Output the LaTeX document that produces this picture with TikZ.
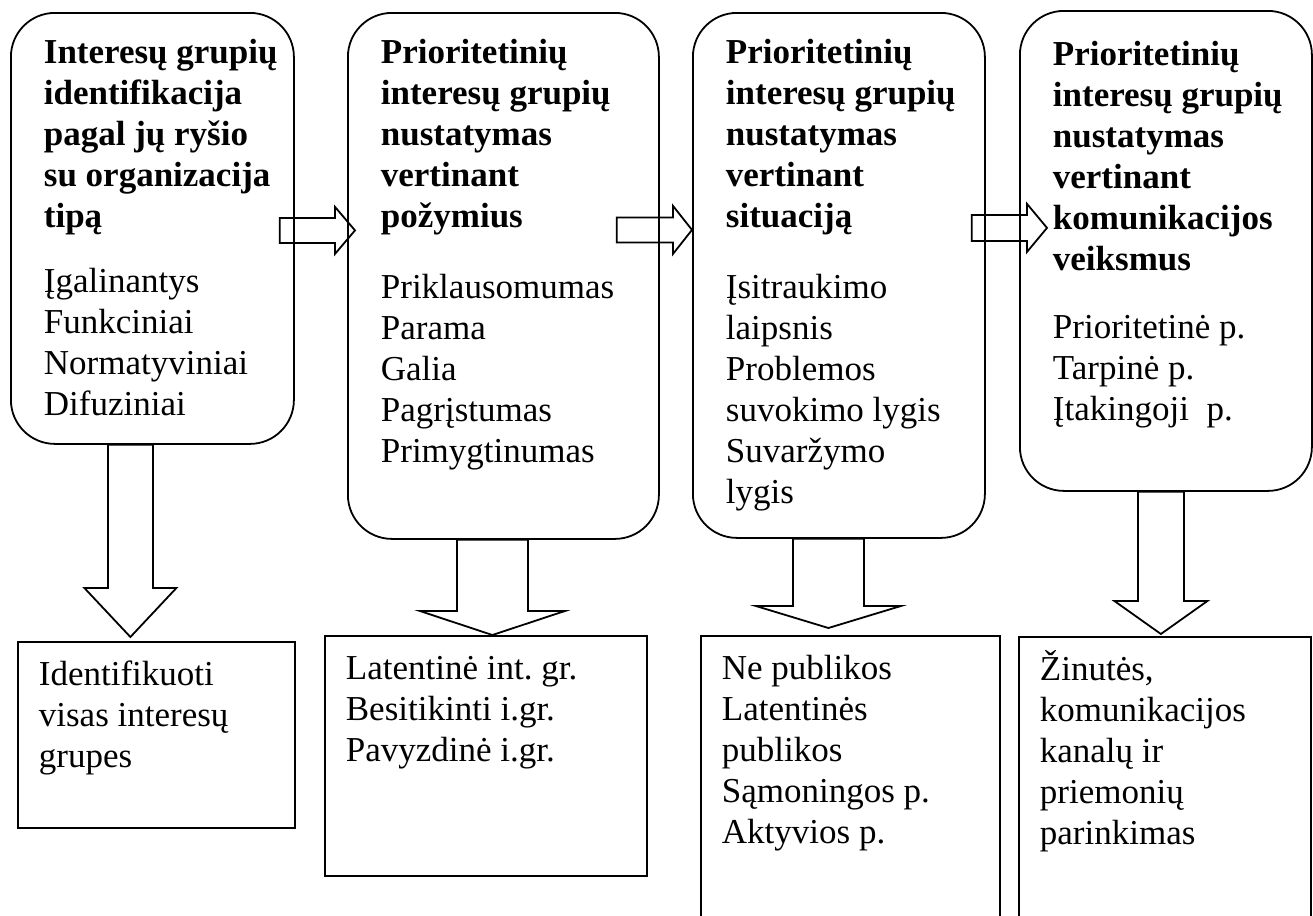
\documentclass[tikz,border=0pt]{standalone}
\usepackage{fontspec}
\setmainfont{Liberation Serif}
\usetikzlibrary{calc}

\newcommand\stagefont{\fontsize{17.5}{20.5}\selectfont\hyphenpenalty=10000\exhyphenpenalty=10000}

% block arrows: start, tip, half shaft, half head, head length
\newcommand\rightblock[5]{%
  \draw[blockarrow] ($(#1)+(0,-#3)$) -- ($(#2)+(-#5,-#3)$) -- ($(#2)+(-#5,-#4)$)
    -- (#2) -- ($(#2)+(-#5,#4)$) -- ($(#2)+(-#5,#3)$) -- ($(#1)+(0,#3)$) -- cycle;}
\newcommand\downblock[5]{%
  \draw[blockarrow] ($(#1)+(-#3,0)$) -- ($(#2)+(-#3,-#5)$) -- ($(#2)+(-#4,-#5)$)
    -- (#2) -- ($(#2)+(#4,-#5)$) -- ($(#2)+(#3,-#5)$) -- ($(#1)+(#3,0)$) -- cycle;}

\tikzset{
  stage/.style={draw, line width=0.9pt, rounded corners=22pt, anchor=north west,
    align=flush left, inner xsep=16.5pt, inner ysep=0pt, text height=25.5pt, font=\stagefont},
  result/.style={draw, line width=0.9pt, anchor=north west,
    align=flush left, inner xsep=10.5pt, inner ysep=0pt, text height=22pt, font=\stagefont},
  blockarrow/.style={draw, line width=0.9pt, line join=miter},
}

\begin{document}
\begin{tikzpicture}[x=0.5pt,y=-0.5pt]
  \useasboundingbox (0,0) rectangle (1313,916);

  % stages
  \node[stage, text width=108.5pt, text depth=190pt] (s1) at (10,12)
    {\textbf{\mbox{Interesų grupių}\\identifikacija\\\mbox{pagal jų ryšio}\\\mbox{su organizacija}\\tipą}\\[12pt]
     Įgalinantys\\Funkciniai\\Normatyviniai\\Difuziniai};
  \node[stage, text width=122.5pt, text depth=237.5pt] (s2) at (347,12)
    {\textbf{Prioritetinių\\\mbox{interesų grupių}\\nustatymas\\vertinant\\požymius}\\[15pt]
     Priklausomumas\\Parama\\Galia\\Pagrįstumas\\Primygtinumas};
  \node[stage, text width=113pt, text depth=237pt] (s3) at (692,12)
    {\textbf{Prioritetinių\\\mbox{interesų grupių}\\nustatymas\\vertinant\\situaciją}\\[15pt]
     Įsitraukimo\\laipsnis\\Problemos\\\mbox{suvokimo lygis}\\Suvaržymo\\lygis};
  \node[stage, text width=113pt, text height=27.5pt, text depth=212.5pt] (s4) at (1019,10)
    {\textbf{Prioritetinių\\\mbox{interesų grupių}\\nustatymas\\vertinant\\komunikacijos\\veiksmus}\\[13.5pt]
     \mbox{Prioritetinė p.}\\\mbox{Tarpinė p.}\\\mbox{Įtakingoji \ p.}};

  % results
  \node[result, text width=117.5pt, text depth=71pt] (r1) at (17,641)
    {Identifikuoti\\\mbox{visas interesų}\\grupes};
  \node[result, text width=140pt, text depth=98pt] (r2) at (324,635)
    {\mbox{Latentinė int.\ gr.}\\\mbox{Besitikinti i.gr.}\\\mbox{Pavyzdinė i.gr.}};
  \node[result, text width=128.5pt, text depth=126pt] (r3) at (700,635)
    {\mbox{Ne publikos}\\Latentinės\\publikos\\\mbox{Sąmoningos p.}\\\mbox{Aktyvios p.}};
  \node[result, text width=125pt, text depth=126pt] (r4) at (1018,636)
    {Žinutės,\\komunikacijos\\\mbox{kanalų ir}\\priemonių\\parinkimas};

  % arrows between stages
  \coordinate (a1s) at ($(s1.east)+(-15,2)$);
  \coordinate (a1t) at ($(s2.west |- a1s)+(8,0)$);
  \coordinate (a2s) at ($(s2.east)+(-43,-46)$);
  \coordinate (a2t) at (s3.west |- a2s);
  \coordinate (a3s) at ($(s3.east)+(-14,-47.5)$);
  \coordinate (a3t) at ($(s4.west |- a3s)+(28,0)$);
  \rightblock{a1s}{a1t}{12.5}{23.5}{20}
  \rightblock{a2s}{a2t}{12.5}{24}{19}
  \rightblock{a3s}{a3t}{13}{24}{20}

  % arrows down to results
  \coordinate (d1s) at ($(s1.south)+(-22,0)$);
  \coordinate (d1t) at ($(r1.north -| d1s)+(0,-4)$);
  \coordinate (d2s) at ($(s2.south)+(-11,0)$);
  \coordinate (d2t) at (r2.north -| d2s);
  \coordinate (d3s) at ($(s3.south)+(-10.5,0)$);
  \coordinate (d3t) at ($(r3.north -| d3s)+(0,-7)$);
  \coordinate (d4s) at ($(s4.south)+(-5,0)$);
  \coordinate (d4t) at ($(r4.north -| d4s)+(0,-2)$);
  \downblock{d1s}{d1t}{22.5}{46}{49}
  \downblock{d2s}{d2t}{35.5}{72.5}{24}
  \downblock{d3s}{d3t}{35.5}{72.5}{22}
  \downblock{d4s}{d4t}{23}{46.5}{33}
\end{tikzpicture}
\end{document}
